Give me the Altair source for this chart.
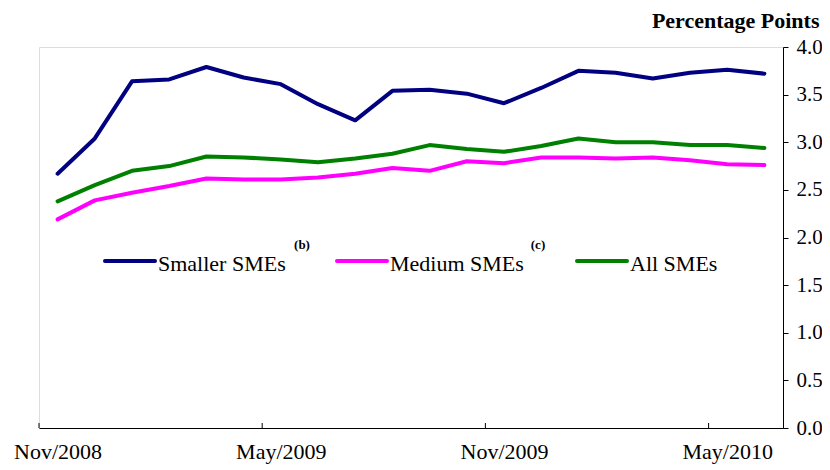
import altair as alt
import pandas as pd

months = ["Nov/2008", "Dec/2008", "Jan/2009", "Feb/2009", "Mar/2009", "Apr/2009",
          "May/2009", "Jun/2009", "Jul/2009", "Aug/2009", "Sep/2009", "Oct/2009",
          "Nov/2009", "Dec/2009", "Jan/2010", "Feb/2010", "Mar/2010", "Apr/2010",
          "May/2010", "Jun/2010"]
smaller = [2.67, 3.04, 3.64, 3.66, 3.79, 3.68, 3.61, 3.40, 3.23, 3.54,
           3.55, 3.51, 3.41, 3.57, 3.75, 3.73, 3.67, 3.73, 3.76, 3.72]
medium = [2.19, 2.39, 2.47, 2.54, 2.62, 2.61, 2.61, 2.63, 2.67, 2.73,
          2.70, 2.80, 2.78, 2.84, 2.84, 2.83, 2.84, 2.81, 2.77, 2.76]
all_smes = [2.38, 2.55, 2.70, 2.75, 2.85, 2.84, 2.82, 2.79, 2.83, 2.88,
            2.97, 2.93, 2.90, 2.96, 3.04, 3.00, 3.00, 2.97, 2.97, 2.94]
series = ["Smaller SMEs", "Medium SMEs", "All SMEs"]
superscripts = ["(b)", "(c)", ""]
colors = ["#000080", "#FF00FF", "#008000"]
label_months = ["Nov/2008", "May/2009", "Nov/2009", "May/2010"]
y_ticks = [0.0, 0.5, 1.0, 1.5, 2.0, 2.5, 3.0, 3.5, 4.0]

FONT = "Liberation Serif"
W, H = 744, 381

rows = []
for name, vals in zip(series, [smaller, medium, all_smes]):
    for i, (m, v) in enumerate(zip(months, vals)):
        rows.append({"i": i, "month": m, "value": v, "series": name})
df = pd.DataFrame(rows)
one = pd.DataFrame({"k": [0]})

label_pos = [months.index(m) for m in label_months]
expr = "''"
for p, m in reversed(list(zip(label_pos, label_months))):
    expr = f"datum.value == {p} ? '{m}' : ({expr})"

xscale = alt.Scale(domain=[-0.5, len(months) - 0.5], nice=False, zero=False)
yscale = alt.Scale(domain=[0, 4], nice=False, zero=True)

lines = alt.Chart(df).mark_line(strokeWidth=4, strokeCap="round", strokeJoin="round").encode(
    x=alt.X("i:Q", scale=xscale,
            axis=alt.Axis(values=label_pos, labelExpr=expr, ticks=False, grid=False,
                          title=None, labelFont=FONT, labelFontSize=22, labelColor="black",
                          labelPadding=13, domainColor="black", domainWidth=1,
                          labelFlush=False, labelOverlap=False)),
    y=alt.Y("value:Q", scale=yscale,
            axis=alt.Axis(orient="right", values=y_ticks, format=".1f", grid=False,
                          tickSize=5, tickColor="black", domainColor="black",
                          labelFont=FONT, labelFontSize=21, labelColor="black",
                          labelPadding=8, labelFlush=False,
                          title="Percentage Points", titleAngle=0, titleAlign="right",
                          titleBaseline="middle", titleX=36, titleY=-27,
                          titleFont=FONT, titleFontSize=22, titleFontWeight="bold",
                          titleColor="black")),
    color=alt.Color("series:N", scale=alt.Scale(domain=series, range=colors), legend=None),
    detail="series:N",
)

tick_df = pd.DataFrame({"b": [p - 0.5 for p in label_pos]})
ticks = alt.Chart(tick_df).mark_rule(color="black", strokeWidth=1).encode(
    x=alt.X("b:Q", scale=xscale),
    y=alt.value(H - 5),
    y2=alt.value(H),
)

layers = [lines, ticks]

# legend (pixel placement inside the plot)
leg_x = [66, 298, 538]
leg_len = 50
leg_y = 214
sup_x = [263, 499, 0]
for name, col, lx, sup, sx in zip(series, colors, leg_x, superscripts, sup_x):
    layers.append(alt.Chart(one).mark_rule(color=col, strokeWidth=4, strokeCap="round").encode(
        x=alt.value(lx), x2=alt.value(lx + leg_len), y=alt.value(leg_y)))
    layers.append(alt.Chart(one).mark_text(align="left", baseline="middle", font=FONT,
                                           fontSize=22, color="black", text=name).encode(
        x=alt.value(lx + leg_len + 3), y=alt.value(leg_y + 3)))
    if sup:
        layers.append(alt.Chart(one).mark_text(align="center", baseline="middle", font=FONT,
                                               fontSize=13, fontWeight="bold", color="black",
                                               text=sup).encode(
            x=alt.value(sx), y=alt.value(leg_y - 16)))

chart = alt.layer(*layers).properties(
    width=W, height=H,
    autosize=alt.AutoSizeParams(type="none"),
    padding={"left": 31, "top": 39, "right": 39, "bottom": 40},
).configure_view(strokeWidth=0).configure(background="white")

chart.save("out.html", embed_options={"renderer": "svg", "actions": False})
